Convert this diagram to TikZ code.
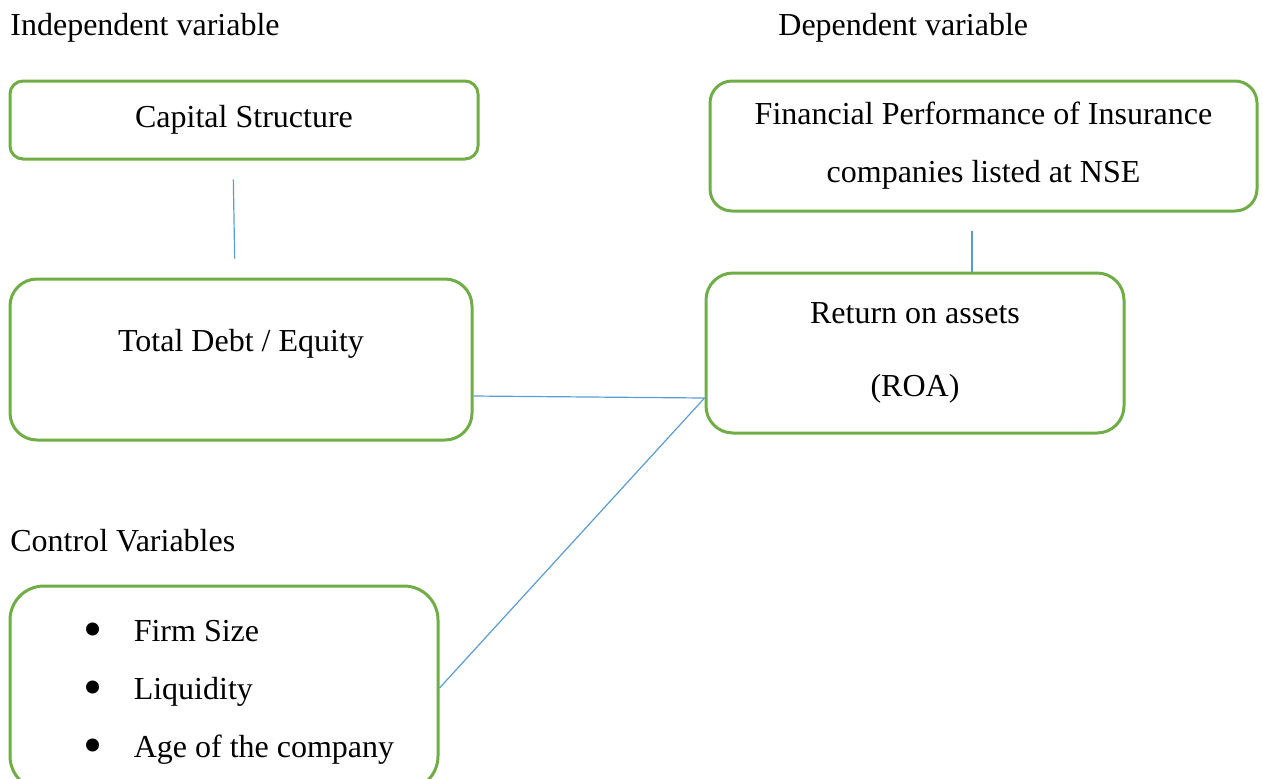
\documentclass[tikz,border=0pt]{standalone}
\usepackage{fontspec}
\usepackage{graphicx}
\setmainfont{Liberation Serif}
\usetikzlibrary{shapes, arrows}
\definecolor{boxgreen}{HTML}{70AD47}
\definecolor{linkblue}{HTML}{5B9BD5}
\newcommand{\bigbullet}{\raisebox{-3pt}{\scalebox{1.7}{\textbullet}}}

\begin{document}
\begin{tikzpicture}[x=0.5pt, y=-0.5pt, font=\fontsize{16}{29}\selectfont]
    \tikzstyle{box} = [rectangle, draw=boxgreen, line width=1.5pt, text centered, align=center, inner sep=0pt]
    \tikzstyle{heading} = [anchor=base west, inner sep=0pt]
    \tikzstyle{link} = [draw=linkblue, line width=0.6pt]

    \useasboundingbox (0,0) rectangle (1263,778);

    \node (indep) [heading] at (10,35) {Independent variable};
    \node (dep) [heading] at (778,35) {Dependent variable};
    \node (ctrlvars) [heading] at (10,551) {Control Variables};

    \node (capital) [box, minimum width=234pt, minimum height=39pt, rounded corners=6.5pt] at (244,120) {Capital Structure};
    \node (debt) [box, minimum width=231pt, minimum height=80.5pt, rounded corners=13.5pt, text height=11pt, text depth=19pt] at (241,359.5) {Total Debt / Equity};
    \node (finance) [box, minimum width=273.5pt, minimum height=65pt, rounded corners=11pt] at (983.5,146) {Financial Performance of Insurance\\companies listed at NSE};
    \node (roa) [box, minimum width=209pt, minimum height=80pt, rounded corners=13.5pt] at (915,353) {Return on assets\\[7.5pt](ROA)};
    \node (control) [box, minimum width=214pt, minimum height=102pt, rounded corners=17pt] at (224,688) {\begin{tabular}{@{\hspace{14.7pt}}l@{\hspace{15.75pt}}l@{}}\bigbullet & Firm Size\\ \bigbullet & Liquidity\\ \bigbullet & Age of the company\end{tabular}};

    % Links
    \draw [link, shorten <=9.5pt, shorten >=9.5pt] ([xshift=-5.5pt]capital.south) -- ([xshift=-3pt]debt.north);
    \draw [link, shorten <=9pt] ([xshift=-5.75pt]finance.south) -- ([xshift=28.5pt]roa.north);
    \draw [link] ([yshift=-18.25pt]debt.east) -- ([yshift=-22.5pt]roa.west);
    \draw [link] (control.east) -- ([yshift=-22.5pt]roa.west);
\end{tikzpicture}
\end{document}
